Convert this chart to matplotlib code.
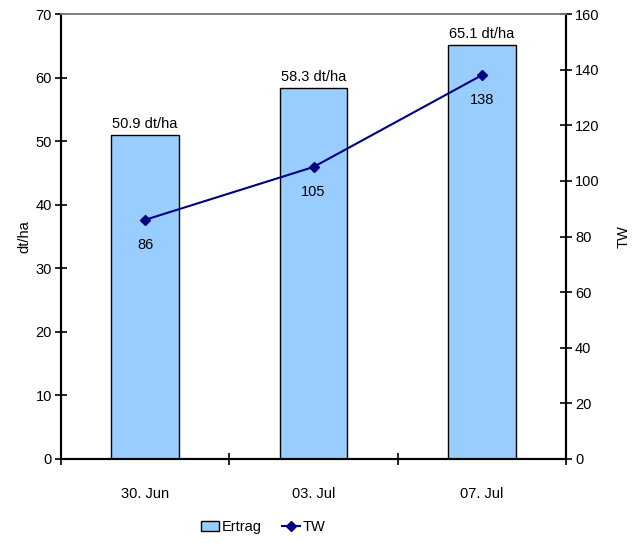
import matplotlib
matplotlib.use("Agg")
import matplotlib.pyplot as plt
from matplotlib.lines import Line2D
from matplotlib.patches import Patch
import numpy as np

dates = ["30. Jun", "03. Jul", "07. Jul"]
ertrag = [50.9, 58.3, 65.1]
tw = [86, 105, 138]

plt.rcParams["font.family"] = ["Liberation Sans", "DejaVu Sans"]
plt.rcParams["font.size"] = 10.5

fig = plt.figure(figsize=(6.36, 5.43), dpi=100)
ax = fig.add_axes([0.0959, 0.1547, 0.7941, 0.8195])
ax2 = ax.twinx()

x = np.arange(len(dates))
bar_color = "#99CCFF"
line_color = "#000080"

ax.bar(x, ertrag, width=0.4, color=bar_color, edgecolor="black", linewidth=1.0, zorder=2)
for xi, v in zip(x, ertrag):
    ax.annotate(f"{v} dt/ha", (xi, v), xytext=(0, 3), textcoords="offset points",
                ha="center", va="bottom")

ax2.plot(x, tw, color=line_color, marker="D", markersize=5, linewidth=1.5, zorder=3)
for xi, v in zip(x, tw):
    ax2.annotate(f"{v}", (xi, v), xytext=(0, -13), textcoords="offset points",
                 ha="center", va="top")

ax.set_xlim(-0.5, 2.5)
ax.set_ylim(0, 70)
ax2.set_ylim(0, 160)
ax.set_yticks(np.arange(0, 71, 10))
ax2.set_yticks(np.arange(0, 161, 20))

# category boundaries carry the tick marks, labels sit at the centres
ax.set_xticks([-0.5, 0.5, 1.5, 2.5])
ax.set_xticklabels([])
ax.set_xticks(x, minor=True)
ax.set_xticklabels(dates, minor=True)
ax.tick_params(axis="x", which="major", direction="inout", length=9, width=1.2)
ax.tick_params(axis="x", which="minor", length=0, pad=20)
ax.tick_params(axis="y", direction="inout", length=9, width=1.2, pad=2)
ax2.tick_params(axis="y", direction="inout", length=9, width=1.2, pad=2)

for a in (ax, ax2):
    a.spines["top"].set_color("#808080")
    a.spines["top"].set_linewidth(1.2)
    a.spines["left"].set_linewidth(1.5)
    a.spines["right"].set_linewidth(1.5)
    a.spines["bottom"].set_linewidth(1.5)
ax.set_zorder(ax2.get_zorder() - 1)
ax2.patch.set_visible(False)

ax.set_ylabel("dt/ha", labelpad=3)
ax2.set_ylabel("TW", labelpad=12)

handles = [Patch(facecolor=bar_color, edgecolor="black", label="Ertrag"),
           Line2D([0], [0], color=line_color, marker="D", markersize=5, linewidth=1.5, label="TW")]
fig.legend(handles=handles, loc="center", bbox_to_anchor=(0.414, 0.029), ncol=2,
           frameon=False, handlelength=1.2, handletextpad=0.2, columnspacing=1.4)

fig.savefig("out.png", dpi=100)
